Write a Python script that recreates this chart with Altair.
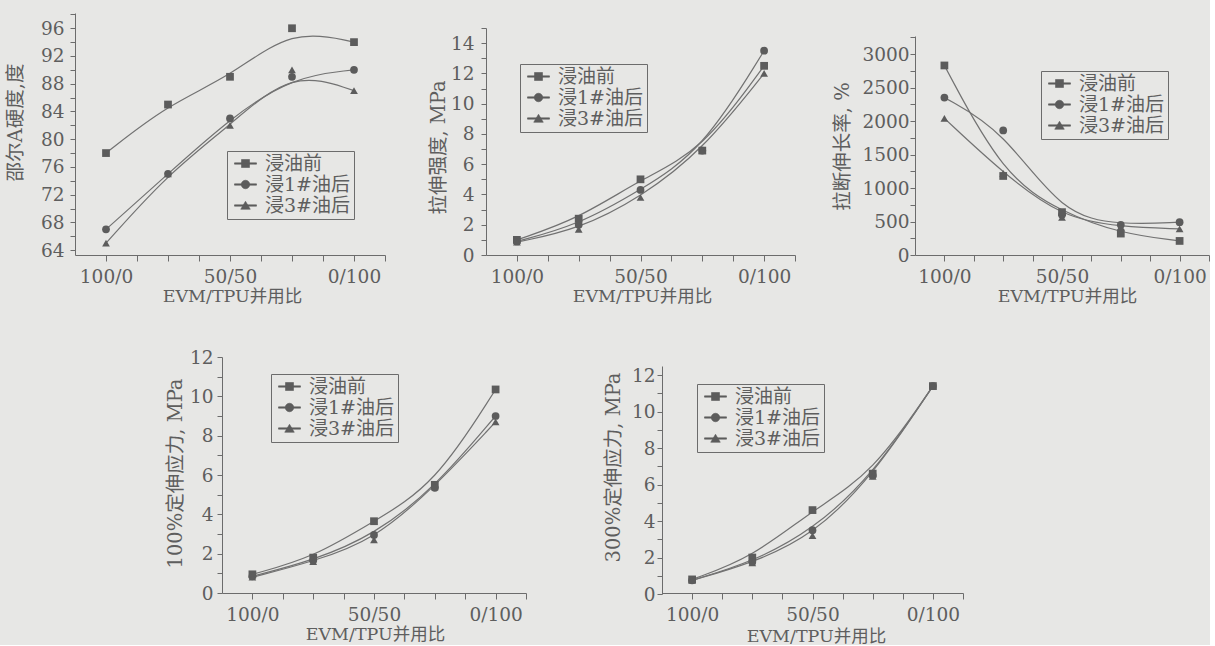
import altair as alt
import pandas as pd

# ---------------- data ----------------
x_tpu = [0, 25, 50, 75, 100]          # TPU share in the EVM/TPU blend
series = ["浸油前", "浸1#油后", "浸3#油后"]
markers = ["sq", "ci", "tr"]
x_tick_text = {0: "100/0", 50: "50/50", 100: "0/100"}

hard_0 = [78, 85, 89, 96, 94]
hard_1 = [67, 75, 83, 89, 90]
hard_3 = [65, 75, 82, 90, 87]

ts_0 = [1.0, 2.4, 5.0, 6.9, 12.5]
ts_1 = [0.9, 2.0, 4.3, 6.9, 13.5]
ts_3 = [0.85, 1.7, 3.8, 6.9, 12.0]

el_0 = [2830, 1180, 640, 320, 210]
el_1 = [2350, 1860, 600, 450, 490]
el_3 = [2040, 1220, 560, 420, 390]

m100_0 = [0.95, 1.8, 3.65, 5.5, 10.35]
m100_1 = [0.85, 1.65, 2.95, 5.35, 9.0]
m100_3 = [0.8, 1.6, 2.7, 5.4, 8.7]

m300_0 = [0.8, 2.0, 4.6, 6.6, 11.4]
m300_1 = [0.75, 1.75, 3.5, 6.5, 11.4]
m300_3 = [0.75, 1.7, 3.2, 6.45, 11.4]

# ---------------- style ----------------
LINE = "#727272"
MARK = "#5c5c5c"
TEXT = "#5e5e5e"
AXIS = "#6c6c6c"
BG = "#e7e7e5"
NUMF = "DejaVu Serif"
CJKF = "DejaVu Serif, Noto Sans CJK SC"

x_ticks = [i * 12.5 for i in range(0, 10)]
x_label_expr = " : ".join(
    f"datum.value === {k} ? '{v}'" for k, v in x_tick_text.items()
) + " : ''"

# legend glyphs: marker with a short line stub on both sides (filled paths)
STUB = "M-2.2,-0.13H2.2V0.13H-2.2Z"
legend_paths = {
    series[0]: STUB + "M-0.8,-0.8H0.8V0.8H-0.8Z",
    series[1]: STUB + "M0.85,0A0.85,0.85,0,1,1,-0.85,0A0.85,0.85,0,1,1,0.85,0Z",
    series[2]: STUB + "M0,-0.85L0.95,0.75H-0.95Z",
}
legend_shape_expr = " : ".join(
    f"datum.value === '{k}' ? '{v}'" for k, v in list(legend_paths.items())[:2]
) + f" : '{legend_paths[series[2]]}'"


def panel(y0, y1, y3, ytitle, ydom, yticks, ymod, yrange, xw, w, h,
          legxy, ytxy, xtxy, lpad):
    df = pd.DataFrame({
        "x": x_tpu * 3,
        "y": list(y0) + list(y1) + list(y3),
        "s": [s for s in series for _ in x_tpu],
        "m": [m for m in markers for _ in x_tpu],
    })
    xscale = alt.Scale(domain=[-12.5, 112.5], range=[0, xw], nice=False, zero=False)
    yscale = alt.Scale(domain=ydom, range=yrange, nice=False, zero=False)
    xaxis = alt.Axis(values=x_ticks, labelExpr=x_label_expr, title="EVM/TPU并用比",
                     titleX=xtxy[0], titleY=xtxy[1], titleBaseline="middle",
                     titleFont=CJKF, titleFontSize=17.5, titleFontWeight="normal",
                     titleColor=TEXT, labelFont=NUMF, labelFontSize=18.5,
                     labelColor=TEXT, labelPadding=6, tickSize=6, tickColor=AXIS,
                     domainColor=AXIS, grid=False, labelOverlap=False, labelFlush=False)
    yaxis = alt.Axis(values=yticks, format="d",
                     labelExpr=f"datum.value % {ymod} === 0 ? datum.label : ''",
                     title=ytitle, titleX=ytxy[0], titleY=ytxy[1], titleBaseline="middle",
                     titleAngle=270, titleFont=CJKF, titleFontSize=19.5,
                     titleFontWeight="normal", titleColor=TEXT, labelFont=NUMF,
                     labelFontSize=18.5, labelColor=TEXT, labelPadding=lpad, tickSize=5,
                     tickColor=AXIS, domainColor=AXIS, grid=False, labelOverlap=False)
    leg = alt.Legend(
        title=None, orient="none", legendX=legxy[0], legendY=legxy[1],
        strokeColor=AXIS, padding=3, rowPadding=1, labelFont=CJKF,
        labelFontSize=19, labelColor=TEXT, symbolSize=100, symbolOffset=6,
        labelOffset=10, symbolType=alt.ExprRef(expr=legend_shape_expr),
        symbolFillColor=MARK, symbolStrokeColor=MARK, symbolStrokeWidth=0.6,
        symbolOpacity=1,
    )
    base = alt.Chart(df)
    line = base.mark_line(interpolate="basis", color=LINE, strokeWidth=1.2).encode(
        x=alt.X("x:Q", scale=xscale, axis=xaxis),
        y=alt.Y("y:Q", scale=yscale, axis=yaxis),
        detail="s:N",
    )
    pts = base.mark_point(filled=True, size=60, opacity=1).encode(
        x=alt.X("x:Q", scale=xscale, axis=xaxis),
        y=alt.Y("y:Q", scale=yscale, axis=yaxis),
        color=alt.Color("s:N", scale=alt.Scale(domain=series, range=[MARK] * 3),
                        legend=leg),
        shape=alt.Shape("m:N", scale=alt.Scale(domain=markers,
                        range=["square", "circle", "triangle-up"]), legend=None),
    )
    return alt.layer(line, pts).properties(width=w, height=h)


H1 = 242
H2 = 236
c1 = panel(hard_0, hard_1, hard_3, "邵尔A硬度,度", [63.3, 98.2],
           list(range(64, 99, 2)), 4, [H1, 0], 310, 411, H1,
           (152, 138), (-60, 109), (157, 41), 6)
c2 = panel(ts_0, ts_1, ts_3, "拉伸强度, MPa", [0, 15],
           list(range(0, 16, 1)), 2, [H1, 15], 309, 429, H1,
           (34, 51), (-48, 134), (156, 41), 7)
c3 = panel(el_0, el_1, el_3, "拉断伸长率, %", [0, 3270],
           list(range(0, 3251, 250)), 500, [H1, 23], 294, 294, H1,
           (126, 58), (-73, 133), (152, 41), 1)
c4 = panel(m100_0, m100_1, m100_3, "100%定伸应力, MPa", [0, 12],
           list(range(0, 13, 1)), 2, [H2, 0], 304, 440, H2,
           (49, 17), (-47, 116), (153, 41), 4)
c5 = panel(m300_0, m300_1, m300_3, "300%定伸应力, MPa", [0, 12.5],
           list(range(0, 13, 1)), 2, [H2 + 1, 9], 301, 301, H2,
           (35, 27), (-49, 110), (154, 43), 2)

spacer = alt.Chart(pd.DataFrame({"v": [0]})).mark_point(opacity=0).encode(
    x=alt.X("v:Q", axis=None), y=alt.Y("v:Q", axis=None)
).properties(width=147, height=10)

row1 = alt.hconcat(c1, c2, c3, spacing=0, bounds="flush").resolve_scale(
    color="independent", shape="independent").resolve_legend(color="independent")
row2 = alt.hconcat(spacer, c4, c5, spacing=0, bounds="flush").resolve_scale(
    color="independent", shape="independent").resolve_legend(color="independent")

chart = alt.vconcat(row1, row2, spacing=344, bounds="flush").resolve_scale(
    color="independent", shape="independent").resolve_legend(color="independent").properties(
    padding={"left": 5, "top": 5, "right": 0, "bottom": 0},
    background=BG,
).configure_view(stroke=None).configure_axis(labelOverlap=False)

chart.save("out.html", embed_options={"renderer": "svg", "actions": False})
